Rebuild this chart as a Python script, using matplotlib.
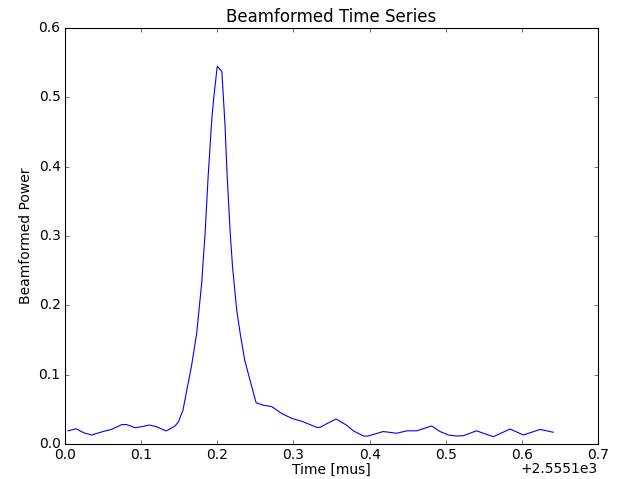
import matplotlib
matplotlib.use('Agg')
import matplotlib.pyplot as plt

# time offsets (mus) relative to 2555.1
t_offset = 2555.1
t_rel = [0.004, 0.0145, 0.025, 0.035, 0.050, 0.061, 0.0745, 0.081, 0.092, 0.1007,
         0.111, 0.120, 0.1327, 0.1445, 0.149, 0.155, 0.160, 0.166, 0.173, 0.1795,
         0.184, 0.188, 0.193, 0.196, 0.200, 0.206, 0.210, 0.213, 0.217, 0.220,
         0.2255, 0.230, 0.236, 0.243, 0.251, 0.260, 0.2715, 0.2845, 0.2977, 0.313,
         0.3305, 0.335, 0.345, 0.356, 0.370, 0.3787, 0.392, 0.398, 0.418, 0.4355,
         0.449, 0.462, 0.4815, 0.4925, 0.5035, 0.5145, 0.523, 0.5405, 0.5625, 0.5845,
         0.602, 0.624, 0.641]
power = [0.019, 0.022, 0.016, 0.013, 0.018, 0.021, 0.028, 0.028, 0.0235, 0.025,
         0.0274, 0.025, 0.0188, 0.026, 0.032, 0.049, 0.078, 0.1115, 0.160, 0.232,
         0.304, 0.386, 0.472, 0.506, 0.545, 0.537, 0.463, 0.386, 0.304, 0.256,
         0.193, 0.160, 0.121, 0.092, 0.0596, 0.056, 0.054, 0.044, 0.037, 0.032,
         0.024, 0.024, 0.030, 0.036, 0.027, 0.019, 0.0115, 0.0115, 0.018, 0.0155,
         0.019, 0.019, 0.026, 0.018, 0.013, 0.0115, 0.012, 0.019, 0.0105, 0.0216,
         0.013, 0.021, 0.017]
x_ticks = [0.0, 0.1, 0.2, 0.3, 0.4, 0.5, 0.6, 0.7]

time = [t_offset + v for v in t_rel]

plt.style.use('classic')
plt.rcParams['font.size'] = 12.5
plt.rcParams['xtick.labelsize'] = 12.5
plt.rcParams['ytick.labelsize'] = 12.5
dpi = 80
fig = plt.figure(figsize=(618 / dpi, 479 / dpi), dpi=dpi, facecolor='white')
ax = fig.add_axes([65 / 618, 35 / 479, 533 / 618, 416 / 479])
ax.plot(time, power, color='b', linewidth=1)
ax.set_xlim(t_offset, t_offset + 0.7)
ax.set_ylim(0, 0.6)
ax.set_xticks([t_offset + v for v in x_ticks])
ax.set_xticklabels(['%g' % v if v else '0.0' for v in x_ticks])
# offset label like matplotlib's old-style "+2.5551e3"
ax.text(1.0, -0.043, '+2.5551e3', transform=ax.transAxes,
        ha='right', va='top', fontsize=12.5)
ax.set_xlabel('Time [mus]', labelpad=0, fontsize=12.5)
ax.set_ylabel('Beamformed Power', fontsize=12.5)
ax.set_title('Beamformed Time Series', fontsize=15)

fig.savefig('out.png', dpi=dpi, facecolor='white')
